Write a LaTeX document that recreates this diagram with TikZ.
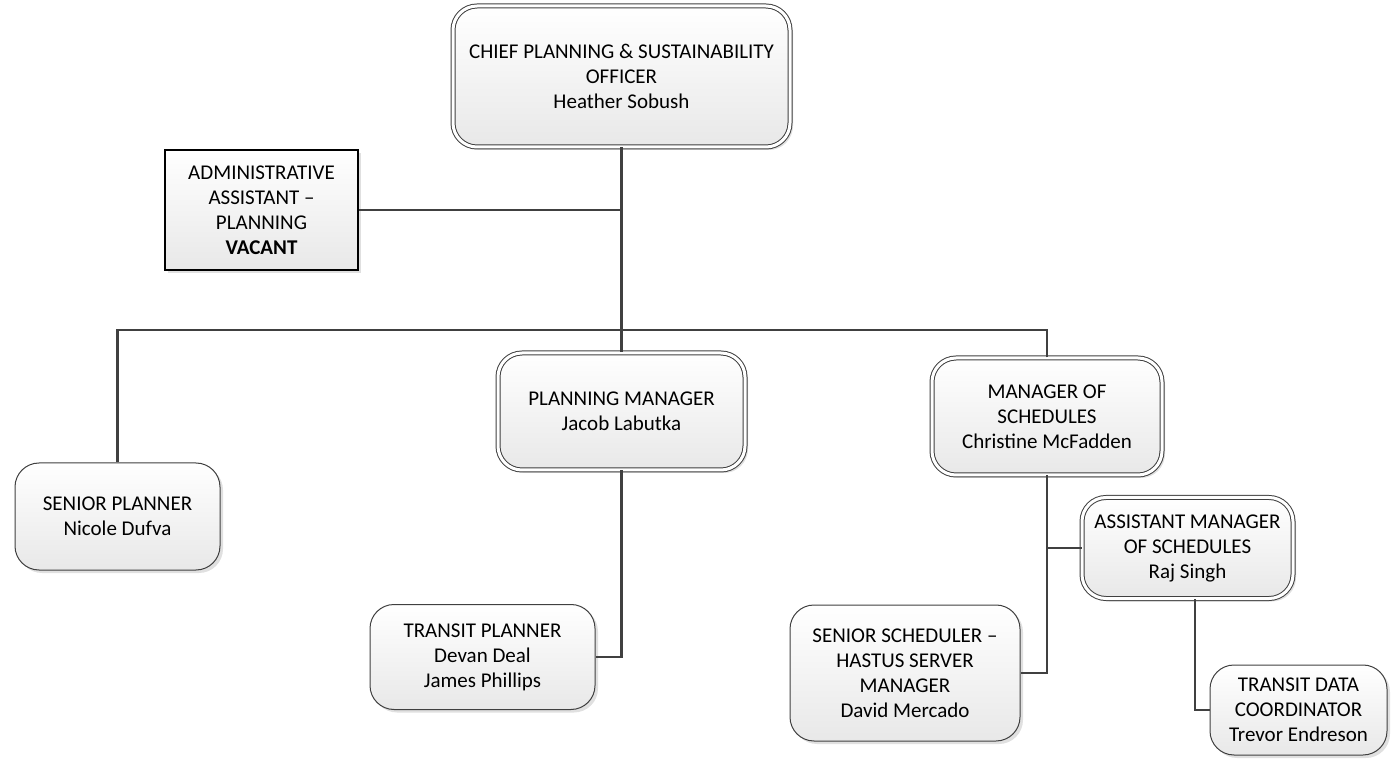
\documentclass[tikz,border=0pt]{standalone}
\usepackage{fontspec}
\setmainfont{Carlito}
\usetikzlibrary{positioning}
\usetikzlibrary{shadows}

\tikzset{
	post/.style={draw=black!75, line width=0.5pt, rounded corners=12pt, top color=white, bottom color=black!9,
		align=center, inner sep=2pt, font=\fontsize{10.5}{12.5}\selectfont,
		drop shadow={shadow xshift=1.5pt, shadow yshift=-1.5pt, opacity=0.35, fill=black!35}},
	boss/.style={post, double=white, double distance=1.5pt},
	link/.style={draw=black!75, line width=1.4pt},
}

\begin{document}
\begin{tikzpicture}[x=0.5pt,y=-0.5pt]
	\useasboundingbox (0,0) rectangle (1398,764);
	\node (chief) [boss, minimum width=168.5pt, minimum height=70.5pt] at (621.5,76.5) {CHIEF PLANNING \& SUSTAINABILITY\\OFFICER\\Heather Sobush};
	\node (admin) [post, sharp corners, draw=black, line width=0.8pt, minimum width=96.5pt, minimum height=60pt] at (261.5,210) {ADMINISTRATIVE\\ASSISTANT --\\PLANNING\\\textbf{VACANT}};
	\node (senpl) [post, minimum width=102.5pt, minimum height=53.5pt] at (117.5,516.5) {SENIOR PLANNER\\Nicole Dufva};
	\node (planmgr) [boss, minimum width=123.5pt, minimum height=58.5pt] at (621.5,411.5) {PLANNING MANAGER\\Jacob Labutka};
	\node (schedmgr) [boss, minimum width=115pt, minimum height=58.5pt] at (1047,416.5) {MANAGER OF\\SCHEDULES\\Christine McFadden};
	\node (transpl) [post, minimum width=112.5pt, minimum height=52.5pt] at (482.5,657) {TRANSIT PLANNER\\Devan Deal\\James Phillips};
	\node (sensched) [post, minimum width=115pt, minimum height=68pt] at (905,673) {SENIOR SCHEDULER --\\HASTUS SERVER\\MANAGER\\David Mercado};
	\node (asstmgr) [boss, minimum width=105.5pt, minimum height=50.5pt] at (1187.5,548) {ASSISTANT MANAGER\\OF SCHEDULES\\Raj Singh};
	\node (datacoord) [post, minimum width=88.5pt, minimum height=45pt] at (1298.5,710) {TRANSIT DATA\\COORDINATOR\\Trevor Endreson};
	\coordinate (bus) at (621.5,330);

	\draw [link] (chief.south) -- (bus);
	\draw [link] (chief.south) |- (admin.east);
	\draw [link] (senpl.north) |- (bus);
	\draw [link] (schedmgr.north) |- (bus);
	\draw [link] (bus) -- (planmgr.north);
	\draw [link] (planmgr.south) |- (transpl.east);
	\draw [link] (schedmgr.south) |- (sensched.east);
	\draw [link] (schedmgr.south) |- (asstmgr.west);
	\draw [link] ([xshift=3.75pt]asstmgr.south) |- (datacoord.west);
\end{tikzpicture}
\end{document}
